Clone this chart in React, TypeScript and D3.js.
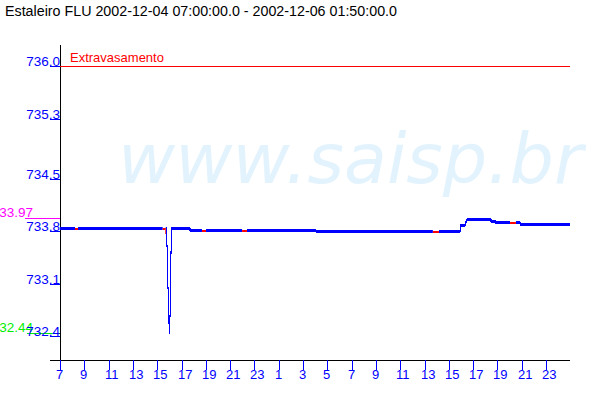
import React from "react";
import * as d3 from "d3";

const title = "Estaleiro FLU 2002-12-04 07:00:00.0 - 2002-12-06 01:50:00.0";
const watermark = "www.saisp.br";
const startTime = "2002-12-04T07:00";
const endTime = "2002-12-06T00:58";

const times = [
  "2002-12-04T07:00", "2002-12-04T15:45", "2002-12-04T15:50", "2002-12-04T15:55",
  "2002-12-04T16:00", "2002-12-04T16:05", "2002-12-04T16:08", "2002-12-04T16:10",
  "2002-12-04T17:40", "2002-12-04T17:45", "2002-12-05T03:59", "2002-12-05T04:04",
  "2002-12-05T15:55", "2002-12-05T16:00", "2002-12-05T16:20", "2002-12-05T16:25",
  "2002-12-05T16:30", "2002-12-05T18:25", "2002-12-05T18:30", "2002-12-05T18:45",
  "2002-12-05T18:50", "2002-12-05T19:45", "2002-12-05T19:50", "2002-12-05T20:30",
  "2002-12-05T20:50", "2002-12-05T20:55", "2002-12-06T00:58",
];
const levels = [
  733.827, 733.827, 733.49, 732.8,
  732.44, 732.8, 733.49, 733.827,
  733.827, 733.813, 733.813, 733.8,
  733.8, 733.88, 733.88, 733.92,
  733.947, 733.947, 733.933, 733.933,
  733.92, 733.92, 733.907, 733.913,
  733.913, 733.887, 733.887,
];

const gapStarts = ["2002-12-04T08:14", "2002-12-04T15:27", "2002-12-04T18:41", "2002-12-04T21:59", "2002-12-05T13:41", "2002-12-05T20:02"];
const gapEnds = ["2002-12-04T08:29", "2002-12-04T15:42", "2002-12-04T19:01", "2002-12-04T22:23", "2002-12-05T14:11", "2002-12-05T20:31"];

const yTickValues = [736.0, 735.3, 734.5, 733.8, 733.1, 732.4];
const yTickLabels = ["736.0", "735.3", "734.5", "733.8", "733.1", "732.4"];

const overflowLevel = 736.0;
const overflowLabel = "Extravasamento";
const maxLevel = 733.97;
const maxLabel = "733.97";
const minLevel = 732.44;
const minLabel = "732.44";

const parse = d3.utcParse("%Y-%m-%dT%H:%M");

export default function App() {
  const t0 = parse(startTime)!;
  const t1 = parse(endTime)!;
  const x = d3.scaleUtc().domain([t0, t1]).range([60, 570]);
  const y = d3.scaleLinear().domain([minLevel, overflowLevel]).range([333, 66]);

  const data = times.map((t, i) => ({ t: parse(t)!, v: levels[i] }));
  const line = d3.line<{ t: Date; v: number }>().x(d => x(d.t)).y(d => y(d.v));
  const path = line(data) || "";

  const xTicks = d3.utcHour.range(t0, t1).filter(d => d.getUTCHours() % 2 === 1);
  const fmt = d3.utcFormat("%-H");

  const gaps = gapStarts.map((s, i) => ({ a: x(parse(s)!), b: x(parse(gapEnds[i])!) }));

  const blue = "#0000ff";
  const font = "'Liberation Sans', Arial, sans-serif";

  return (
    <svg width={600} height={400} style={{ position: "absolute", left: 0, top: 0, background: "#fff" }} fontFamily={font}>
      <defs>
        <mask id="gapMask">
          <rect x={0} y={0} width={600} height={400} fill="#fff" />
          {gaps.map((g, i) => (
            <rect key={i} x={g.a} y={0} width={g.b - g.a} height={400} fill="#000" />
          ))}
        </mask>
        <clipPath id="gapClip">
          {gaps.map((g, i) => (
            <rect key={i} x={g.a} y={0} width={g.b - g.a} height={400} />
          ))}
        </clipPath>
      </defs>
      <rect x={0} y={0} width={600} height={400} fill="#fff" />
      <text x={118} y={183} fontSize={70} fontStyle="italic" fontFamily="'DejaVu Sans', sans-serif" fill="#e3f3fd">
        {watermark}
      </text>
      <text x={5} y={16} fontSize={14} fill="#000" textLength={392} lengthAdjust="spacingAndGlyphs">{title}</text>

      {/* axes */}
      <line x1={60.5} x2={60.5} y1={45} y2={360} stroke="#000" />
      <line x1={50} x2={570} y1={360.5} y2={360.5} stroke="#000" />

      {/* overflow line */}
      <line x1={60} x2={570} y1={Math.round(y(overflowLevel)) + 0.5} y2={Math.round(y(overflowLevel)) + 0.5} stroke="#ff0000" />
      <text x={70} y={y(overflowLevel) - 4} fontSize={13} fill="#ff0000">{overflowLabel}</text>

      {/* max / min reference marks */}
      <line x1={25} x2={60} y1={Math.round(y(maxLevel)) + 0.5} y2={Math.round(y(maxLevel)) + 0.5} stroke="#ff00ff" />
      <text x={33} y={y(maxLevel) - 1} fontSize={13.5} textAnchor="end" fill="#ff00ff">{maxLabel}</text>
      <line x1={27} x2={60} y1={Math.round(y(minLevel)) + 0.5} y2={Math.round(y(minLevel)) + 0.5} stroke="#00ee00" />
      <text x={33} y={y(minLevel) - 1} fontSize={13.5} textAnchor="end" fill="#00ee00">{minLabel}</text>

      {/* y ticks */}
      {yTickValues.map((v, i) => {
        const yy = Math.round(y(v)) + 0.5;
        return (
          <g key={i}>
            <line x1={50} x2={60} y1={yy} y2={yy} stroke={blue} />
            <text x={60} y={yy - 1} fontSize={13.5} textAnchor="end" fill={blue}>{yTickLabels[i]}</text>
          </g>
        );
      })}

      {/* x ticks */}
      {xTicks.map((d, i) => {
        const xx = Math.round(x(d)) + 0.5;
        return (
          <g key={i}>
            <line x1={xx} x2={xx} y1={360} y2={370} stroke={blue} />
            <text x={xx - 4.5} y={379} fontSize={13} fill={blue}>{fmt(d)}</text>
          </g>
        );
      })}

      {/* data line */}
      <g mask="url(#gapMask)">
        {[-1, 0, 1].map(dy => (
          <path key={dy} d={path} transform={`translate(0,${dy})`} fill="none" stroke={blue} strokeWidth={1} shapeRendering="crispEdges" />
        ))}
      </g>
      <g clipPath="url(#gapClip)">
        <path d={path} transform="translate(0,0.5)" fill="none" stroke="#ff0000" strokeWidth={2} shapeRendering="crispEdges" />
      </g>
    </svg>
  );
}
